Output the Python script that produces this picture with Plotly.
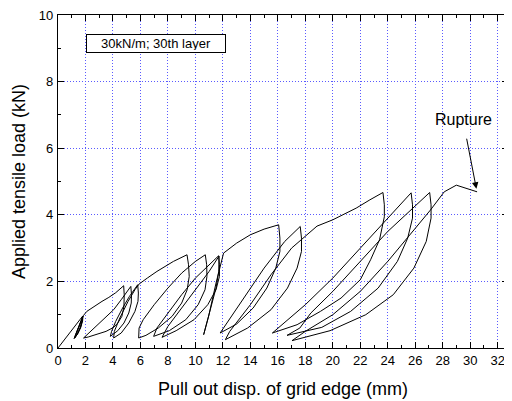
import plotly.graph_objects as go

# ---- data ----
# group 1: first loading and small loops
disp_g1 = [0, 0.9, 1.78, 1.74, 1.6, 1.4, 1.2, 1.3, 1.5, 1.68, 1.8, 1.76, 1.62, 1.42, 1.24, 1.34, 1.54, 1.7, 1.82,
           1.79, 1.66, 1.45, 1.17, 1.28, 1.5, 1.7, 1.84,
           2.1, 2.7, 3.2, 3.7, 4.2, 4.78]
load_g1 = [0, 0.48, 0.95, 0.8, 0.6, 0.42, 0.3, 0.42, 0.65, 0.85, 0.95, 0.8, 0.6, 0.42, 0.31, 0.43, 0.66, 0.85, 0.96,
           0.82, 0.62, 0.44, 0.28, 0.4, 0.64, 0.86, 0.97,
           1.1, 1.27, 1.4, 1.52, 1.66, 1.87]
# group 2
disp_g2 = [4.82, 4.8, 4.65, 4.35, 4.05, 3.5, 2.8, 2.2, 1.86,
           2.5, 3.3, 4.05, 4.6, 5.3,
           5.35, 5.33, 5.15, 4.8, 4.35, 4.0, 3.81,
           3.9, 4.2, 4.7, 5.2, 5.8,
           5.85, 5.82, 5.6, 5.15, 4.6, 4.05,
           4.1, 4.5, 5.1, 5.6, 5.9, 6.5, 7.2, 8.4, 9.39]
load_g2 = [1.6, 1.25, 0.95, 0.75, 0.62, 0.5, 0.4, 0.33, 0.30,
           0.55, 0.85, 1.15, 1.45, 1.85,
           1.6, 1.35, 1.05, 0.75, 0.52, 0.4, 0.35,
           0.5, 0.8, 1.2, 1.55, 1.9,
           1.65, 1.4, 1.1, 0.75, 0.45, 0.30,
           0.5, 0.9, 1.4, 1.75, 1.92, 2.1, 2.3, 2.6, 2.8]
# group 3
disp_g3 = [9.5, 9.55, 9.4, 9.0, 8.3, 7.3, 6.4, 5.87,
           5.9, 6.2, 7.0, 8.0, 9.0, 10.0, 10.72,
           10.82, 10.84, 10.7, 10.2, 9.3, 8.1, 6.96,
           7.2, 8.0, 9.0, 10.0, 11.0, 11.69,
           11.75, 11.75, 11.5, 10.9, 9.9, 8.6, 7.57,
           8.0, 9.0, 10.0, 11.0, 11.72,
           11.7, 11.5, 11.1, 10.75, 10.6,
           10.96, 11.5, 12.05, 13.0, 14.0, 15.0, 16.06]
load_g3 = [2.5, 2.15, 1.75, 1.35, 0.95, 0.6, 0.38, 0.30,
           0.6, 0.85, 1.3, 1.8, 2.25, 2.6, 2.8,
           2.5, 2.15, 1.75, 1.3, 0.85, 0.52, 0.35,
           0.6, 1.05, 1.6, 2.1, 2.5, 2.77,
           2.5, 2.15, 1.75, 1.3, 0.85, 0.52, 0.32,
           0.65, 1.2, 1.75, 2.3, 2.76,
           2.3, 1.8, 1.2, 0.7, 0.4,
           0.95, 1.95, 2.85, 3.15, 3.4, 3.57, 3.70]
# group 4
disp_g4 = [16.15, 16.15, 15.85, 15.2, 14.2, 13.0, 11.8,
           12.3, 13.5, 15.0, 16.5, 17.63,
           17.72, 17.72, 17.4, 16.7, 15.5, 13.8, 12.18,
           12.5, 14.0, 15.5, 17.0, 18.85,
           20.0, 21.7, 22.7, 23.65]
load_g4 = [3.3, 2.9, 2.4, 1.8, 1.2, 0.72, 0.45,
           0.75, 1.5, 2.4, 3.2, 3.65,
           3.3, 2.9, 2.4, 1.8, 1.15, 0.6, 0.25,
           0.5, 1.3, 2.2, 3.0, 3.66,
           3.85, 4.2, 4.45, 4.67]
# group 5 and rupture
disp_g5 = [23.75, 23.75, 23.4, 22.75, 22.0, 20.6, 19.1, 17.4, 15.6,
           16.3, 18.0, 20.0, 22.0, 24.0, 25.7,
           25.8, 25.8, 25.45, 24.7, 23.3, 21.3, 19.2, 16.67,
           17.6, 18.4, 20.0, 22.0, 24.0, 27.05,
           27.15, 27.15, 26.8, 25.9, 24.4, 22.4, 19.8, 17.03,
           18.0, 20.0, 22.0, 24.0, 25.6, 27.1, 28.11, 28.99, 30.5]
load_g5 = [4.3, 3.94, 3.25, 2.65, 2.05, 1.5, 1.1, 0.7, 0.45,
           0.7, 1.3, 2.1, 3.0, 3.9, 4.66,
           4.3, 3.9, 3.3, 2.6, 1.8, 1.1, 0.62, 0.38,
           0.6, 1.05, 1.7, 2.6, 3.5, 4.67,
           4.3, 3.9, 3.2, 2.4, 1.6, 1.0, 0.52, 0.22,
           0.5, 1.0, 1.7, 2.6, 3.4, 4.14, 4.69, 4.89, 4.69]

disp = disp_g1 + disp_g2 + disp_g3 + disp_g4 + disp_g5
load = load_g1 + load_g2 + load_g3 + load_g4 + load_g5

x_ticks = list(range(0, 33, 2))
y_ticks = list(range(0, 11, 2))

FONT = "Liberation Sans, Arial, sans-serif"

fig = go.Figure()
fig.add_trace(go.Scatter(x=disp, y=load, mode="lines",
                         line=dict(color="black", width=1), showlegend=False))

grid = "rgb(90,90,255)"
axis_common = dict(showline=True, linecolor="black", linewidth=1.3, mirror="ticks",
                   ticks="inside", ticklen=6, tickwidth=1.3, tickcolor="black",
                   showgrid=True, gridcolor=grid, griddash="1px,2px", gridwidth=1,
                   zeroline=False, automargin=False, ticklabeloverflow="allow",
                   tickfont=dict(family=FONT, size=13, color="black"),
                   minor=dict(ticks="inside", ticklen=3, tickwidth=1.3, tickcolor="black", dtick=1,
                              showgrid=False))

fig.update_xaxes(range=[0, 32.75], tickvals=x_ticks, ticktext=[str(v) for v in x_ticks],
                 title=dict(text="Pull out disp. of grid edge (mm)", standoff=15,
                            font=dict(family=FONT, size=18, color="black")),
                 **axis_common)
fig.update_yaxes(range=[0, 10], tickvals=y_ticks, ticktext=[str(v) for v in y_ticks],
                 ticklabelstandoff=1,
                 title=dict(text="Applied tensile load (kN)", standoff=8,
                            font=dict(family=FONT, size=18, color="black")),
                 **axis_common)

fig.add_annotation(x=0.2167, y=0.915, xref="paper", yref="paper", xanchor="center", yanchor="middle",
                   text="30kN/m; 30th layer", showarrow=False, bordercolor="black", borderwidth=1,
                   borderpad=2, bgcolor="white", width=134, height=13,
                   font=dict(family=FONT, size=13, color="black"))
fig.add_annotation(x=29.5, y=6.87, xref="x", yref="y", text="Rupture", showarrow=False,
                   font=dict(family=FONT, size=16, color="black"))
fig.add_annotation(x=30.45, y=4.78, ax=29.72, ay=6.33, xref="x", yref="y", axref="x", ayref="y",
                   text="", showarrow=True, arrowhead=2, arrowsize=1.3, arrowwidth=1, arrowcolor="black")

# the page adds an 8 px body margin, so the figure is sized to fill the 512x401 window from there
fig.update_layout(width=504, height=393, margin=dict(l=50, r=4, t=7, b=53),
                  plot_bgcolor="white", paper_bgcolor="white")

fig.write_html("out.html")
